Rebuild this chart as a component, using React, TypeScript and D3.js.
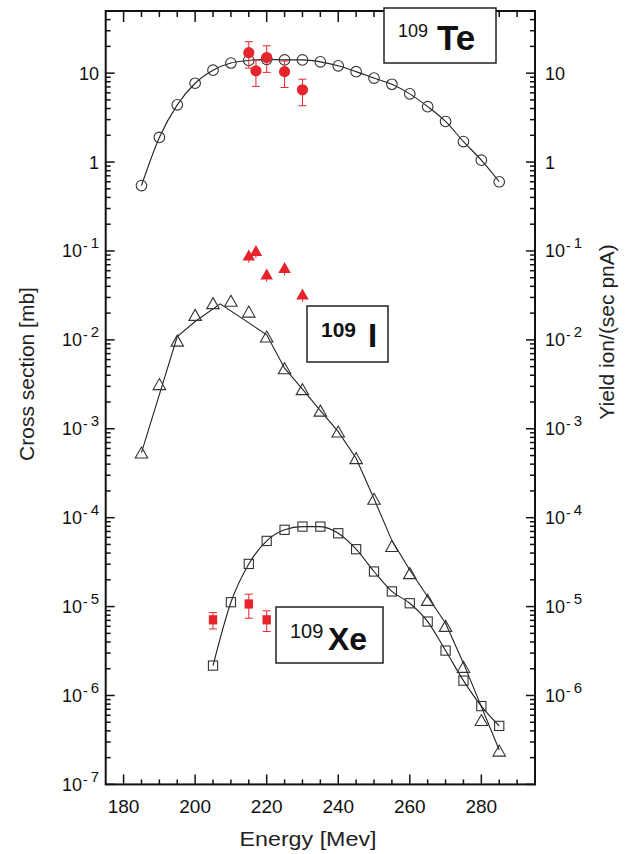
import React from "react";
import * as d3 from "d3";

// ---- data ----
const TE_E = [185, 190, 195, 200, 205, 210, 215, 220, 225, 230, 235, 240, 245, 250, 255, 260, 265, 270, 275, 280, 285];
const TE_CS = [0.544, 1.89, 4.4, 7.7, 10.8, 13.0, 13.9, 14.3, 14.1, 14.1, 13.4, 12.1, 10.4, 8.8, 7.5, 5.85, 4.2, 2.86, 1.7, 1.05, 0.6];

const I_E = [185, 190, 195, 200, 205, 210, 215, 220, 225, 230, 235, 240, 245, 250, 255, 260, 265, 270, 275, 280, 285];
const I_CS = [5.4e-4, 3.18e-3, 9.8e-3, 1.91e-2, 2.59e-2, 2.75e-2, 2.08e-2, 1.09e-2, 4.8e-3, 2.79e-3, 1.6e-3, 9.3e-4, 4.67e-4, 1.63e-4, 4.8e-5, 2.38e-5, 1.19e-5, 6.07e-6, 2.1e-6, 5.3e-7, 2.4e-7];
const I_FIT_E = [185, 195, 200, 207, 220, 225, 230, 235, 240, 245, 250, 255, 260, 265, 270, 275, 285];
const I_FIT = [5.4e-4, 1.09e-2, 1.61e-2, 2.54e-2, 1.14e-2, 4.8e-3, 2.79e-3, 1.6e-3, 9.3e-4, 4.67e-4, 1.63e-4, 5.52e-5, 2.58e-5, 1.29e-5, 6.5e-6, 2.31e-6, 2.44e-7];

const XE_E = [205, 210, 215, 220, 225, 230, 235, 240, 245, 250, 255, 260, 265, 270, 275, 280, 285];
const XE_CS = [2.17e-6, 1.12e-5, 3.02e-5, 5.48e-5, 7.3e-5, 7.94e-5, 7.94e-5, 6.68e-5, 4.42e-5, 2.48e-5, 1.48e-5, 1.09e-5, 6.78e-6, 3.2e-6, 1.47e-6, 7.6e-7, 4.55e-7];

const TE_Y_E = [215, 217, 220, 225, 230];
const TE_Y = [17, 10.6, 15, 10.4, 6.5];
const TE_Y_LO = [11.4, 7.1, 10.2, 6.9, 4.3];
const TE_Y_HI = [22.6, 14, 20.3, 13.7, 8.55];

const I_Y_E = [215, 217, 220, 225, 230];
const I_Y = [0.0903, 0.101, 0.0552, 0.065, 0.0327];
const I_Y_LO = [0.074, 0.083, 0.045, 0.053, 0.0267];
const I_Y_HI = [0.1, 0.11, 0.06, 0.071, 0.036];

const XE_Y_E = [205, 215, 220];
const XE_Y = [7.1e-6, 1.07e-5, 7.1e-6];
const XE_Y_LO = [5.6e-6, 7.4e-6, 5.24e-6];
const XE_Y_HI = [8.57e-6, 1.38e-5, 8.96e-6];

const X_MAJOR = [180, 200, 220, 240, 260, 280];
const LEFT_EXP = [1, 0, -1, -2, -3, -4, -5, -6, -7];
const RIGHT_EXP = [1, 0, -1, -2, -3, -4, -5, -6];

const FONT = "'Liberation Sans', Arial, Helvetica, sans-serif";
const RED = "#e5242b";

export default function App() {
  const L = 105.7, R = 535, T = 11, B = 784.4;
  const x = d3.scaleLinear().domain([175, 295]).range([L, R]);
  const y = d3.scaleLog().domain([1e-7, 50]).range([B, T]);

  const xMinor = d3.range(175, 296, 5).filter((v) => !X_MAJOR.includes(v) && v > 175 && v < 295);
  const yMinor: number[] = [];
  for (let d = -7; d <= 1; d++) for (let k = 2; k <= 9; k++) { const v = k * Math.pow(10, d); if (v < 50) yMinor.push(v); }

  const lineGen = (curve: any) => d3.line<[number, number]>().x((d) => x(d[0])).y((d) => y(d[1])).curve(curve);
  const teLine = lineGen(d3.curveMonotoneX)(TE_E.map((e, i) => [e, TE_CS[i]]));
  const iLine = lineGen(d3.curveLinear)(I_FIT_E.map((e, i) => [e, I_FIT[i]]));
  const xeLine = lineGen(d3.curveMonotoneX)(XE_E.map((e, i) => [e, XE_CS[i]]));

  const tri = (cx: number, cy: number, w: number, h: number) =>
    `M${cx},${cy - h / 2}L${cx + w / 2},${cy + h / 2}L${cx - w / 2},${cy + h / 2}Z`;

  const yLabel = (p: number, xPos: number, anchor: "start" | "end", key: string) => {
    const cy = y(Math.pow(10, p));
    if (p === 1 || p === 0) {
      return (
        <text key={key} x={xPos} y={cy + 6.5} textAnchor={anchor} fontSize={18} fontFamily={FONT} fill="#111">
          {p === 1 ? "10" : "1"}
        </text>
      );
    }
    return (
      <text key={key} x={xPos} y={cy + 6.5} textAnchor={anchor} fontSize={18} fontFamily={FONT} fill="#111">
        10
        <tspan fontSize={14} dx={1} dy={-6}>-</tspan>
        <tspan fontSize={15} dx={3} dy={-3}>{String(-p)}</tspan>
      </text>
    );
  };

  const errBar = (cx: number, lo: number, hi: number, cap: number, key: string) => (
    <g key={key} stroke={RED} strokeWidth={1}>
      <line x1={cx} x2={cx} y1={y(lo)} y2={y(hi)} />
      <line x1={cx - cap} x2={cx + cap} y1={y(lo)} y2={y(lo)} />
      <line x1={cx - cap} x2={cx + cap} y1={y(hi)} y2={y(hi)} />
    </g>
  );

  return (
    <svg width={636} height={854} style={{ position: "absolute", left: 0, top: 0, background: "#fff" }}>
      <rect x={0} y={0} width={636} height={854} fill="#fff" />

      {/* data lines */}
      <g fill="none" stroke="#222" strokeWidth={1.1}>
        <path d={teLine || ""} />
        <path d={iLine || ""} />
        <path d={xeLine || ""} />
      </g>

      {/* open markers */}
      <g fill="none" stroke="#333" strokeWidth={1.1}>
        {TE_E.map((e, i) => <circle key={"tc" + i} cx={x(e)} cy={y(TE_CS[i])} r={5.3} />)}
        {I_E.map((e, i) => <path key={"it" + i} d={tri(x(e), y(I_CS[i]), 12.5, 11)} />)}
        {XE_E.map((e, i) => <rect key={"xs" + i} x={x(e) - 4.6} y={y(XE_CS[i]) - 4.6} width={9.2} height={9.2} />)}
      </g>

      {/* red measured yields */}
      {TE_Y_E.map((e, i) => errBar(x(e), TE_Y_LO[i], TE_Y_HI[i], 4, "te" + i))}
      {TE_Y_E.map((e, i) => <circle key={"tr" + i} cx={x(e)} cy={y(TE_Y[i])} r={5.6} fill={RED} />)}
      {I_Y_E.map((e, i) => <line key={"ie" + i} x1={x(e)} x2={x(e)} y1={y(I_Y_LO[i])} y2={y(I_Y_HI[i])} stroke={RED} strokeWidth={1} />)}
      {I_Y_E.map((e, i) => <path key={"ir" + i} d={tri(x(e), y(I_Y[i]), 12.5, 11)} fill={RED} />)}
      {XE_Y_E.map((e, i) => errBar(x(e), XE_Y_LO[i], XE_Y_HI[i], 4, "xe" + i))}
      {XE_Y_E.map((e, i) => <rect key={"xr" + i} x={x(e) - 4.2} y={y(XE_Y[i]) - 4.6} width={8.4} height={9.2} fill={RED} />)}

      {/* frame and ticks */}
      <g stroke="#111" strokeWidth={1.5}>
        {X_MAJOR.map((v) => (
          <g key={"xm" + v}>
            <line x1={x(v)} x2={x(v)} y1={B} y2={B - 10} />
            <line x1={x(v)} x2={x(v)} y1={T} y2={T + 11} />
          </g>
        ))}
        {xMinor.map((v) => (
          <g key={"xn" + v}>
            <line x1={x(v)} x2={x(v)} y1={B} y2={B - 5} />
            <line x1={x(v)} x2={x(v)} y1={T} y2={T + 6} />
          </g>
        ))}
        {LEFT_EXP.map((p) => (
          <g key={"ym" + p}>
            <line x1={L} x2={L + 9} y1={y(Math.pow(10, p))} y2={y(Math.pow(10, p))} />
            <line x1={R} x2={R - 9} y1={y(Math.pow(10, p))} y2={y(Math.pow(10, p))} />
          </g>
        ))}
        {yMinor.map((v, i) => (
          <g key={"yn" + i}>
            <line x1={L} x2={L + 5} y1={y(v)} y2={y(v)} />
            <line x1={R} x2={R - 5} y1={y(v)} y2={y(v)} />
          </g>
        ))}
      </g>
      <rect x={L} y={T} width={R - L} height={B - T} fill="none" stroke="#111" strokeWidth={2} />

      {/* tick labels */}
      {X_MAJOR.map((v) => (
        <text key={"xl" + v} x={x(v)} y={812.5} textAnchor="middle" fontSize={19} fontFamily={FONT} fill="#111">
          {v}
        </text>
      ))}
      {LEFT_EXP.map((p) => yLabel(p, 99, "end", "ll" + p))}
      {RIGHT_EXP.map((p) => yLabel(p, 545, "start", "rl" + p))}

      {/* axis titles */}
      <text x={308} y={846} textAnchor="middle" fontSize={20} fontFamily={FONT} fill="#222" textLength={137} lengthAdjust="spacingAndGlyphs">
        Energy [Mev]
      </text>
      <text transform="translate(34,374) rotate(-90)" textAnchor="middle" fontSize={21} fontFamily={FONT} fill="#222">
        Cross section [mb]
      </text>
      <text transform="translate(614,332) rotate(-90)" textAnchor="middle" fontSize={21} fontFamily={FONT} fill="#222">
        Yield ion/(sec pnA)
      </text>

      {/* isotope labels */}
      <rect x={384} y={8} width={112} height={55} fill="#fff" stroke="#222" strokeWidth={1.5} />
      <text x={398} y={37} fontSize={18} fontFamily={FONT} fill="#111">109</text>
      <text x={437} y={50} fontSize={35} fontWeight="bold" fontFamily={FONT} fill="#111">Te</text>

      <rect x={307} y={306} width={81} height={56} fill="#fff" stroke="#222" strokeWidth={1.5} />
      <text x={321} y={337} fontSize={21} fontWeight="bold" fontFamily={FONT} fill="#111">109</text>
      <text x={368} y={347} fontSize={33} fontWeight="bold" fontFamily={FONT} fill="#111">I</text>

      <rect x={276} y={607} width={107} height={56} fill="#fff" stroke="#222" strokeWidth={1.5} />
      <text x={290} y={638} fontSize={20} fontFamily={FONT} fill="#111">109</text>
      <text x={328} y={650} fontSize={32} fontWeight="bold" fontFamily={FONT} fill="#111">Xe</text>
    </svg>
  );
}
